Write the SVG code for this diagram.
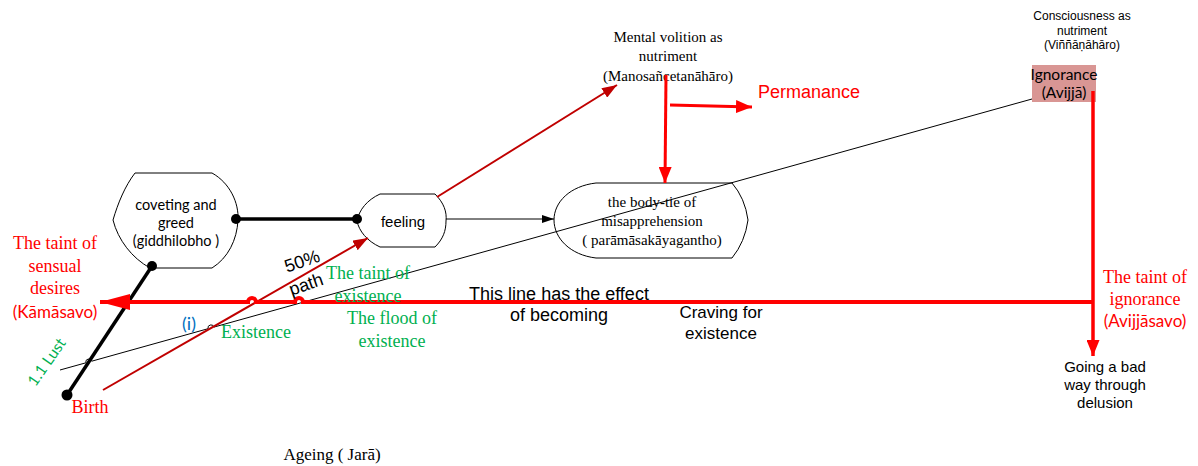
<svg xmlns="http://www.w3.org/2000/svg" width="1198" height="466" viewBox="0 0 1198 466">
<style>
.serif{font-family:"Liberation Serif","Times New Roman",serif}
.sans{font-family:"Liberation Sans",Arial,sans-serif}
.cal{font-family:Lato,"Liberation Sans",sans-serif}
.red{fill:#ff0000}
.green{fill:#00b050}
.node{fill:#ffffff;stroke:#000000;stroke-width:1}
.thinred{stroke:#c00000;stroke-width:2;fill:none}
.thickred{stroke:#ff0000;fill:none}
.thickblack{stroke:#000000;stroke-width:3.5;fill:none}
.thin{stroke:#000000;stroke-width:1;fill:none}
text{text-anchor:middle}
</style>
<defs>
<marker id="aDR" markerUnits="userSpaceOnUse" markerWidth="15" markerHeight="11" refX="15" refY="5.5" orient="auto"><path d="M0,0 L15,5.5 L0,11 Z" fill="#c00000"/></marker>
<marker id="aBig" markerUnits="userSpaceOnUse" markerWidth="30" markerHeight="16" refX="30" refY="8" orient="auto"><path d="M0,0 L30,8 L0,16 Z" fill="#ff0000"/></marker>
<marker id="aRed" markerUnits="userSpaceOnUse" markerWidth="16" markerHeight="13" refX="16" refY="6.5" orient="auto"><path d="M0,0 L16,6.5 L0,13 Z" fill="#ff0000"/></marker>
<marker id="aBlk" markerUnits="userSpaceOnUse" markerWidth="12" markerHeight="8" refX="12" refY="4" orient="auto"><path d="M0,0 L12,4 L0,8 Z" fill="#000000"/></marker>
</defs>
<rect width="1198" height="466" fill="#ffffff"/>

<g id="node-coveting">
<path class="node" d="M135,173 L212,173 C230,183 239,203 238,220 C237,240 228,258 212,268 L150,268 C132,258 118,240 113,220 C118,203 125,186 135,173 Z"/>
<text class="cal" font-size="14.5" x="176" y="210">coveting and</text>
<text class="cal" font-size="14.5" x="176" y="228">greed</text>
<text class="cal" font-size="14.5" x="176" y="246">(giddhilobho )</text>
</g>

<g id="node-feeling">
<path class="node" d="M380,194 L435,194 C444,203 447,212 446,221 C446,231 443,239 435,247 L380,247 C367,241 359,231 357,221 C359,210 367,200 380,194 Z"/>
<text class="sans" font-size="15" x="403" y="227">feeling</text>
</g>

<g id="node-bodytie">
<path class="node" d="M596,183 L732,183 Q745,198 748,220 Q745,242 732,258 L596,258 C570,255 554,238 554,220 C554,202 570,186 596,183 Z"/>
<text class="serif" font-size="15" x="652" y="207">the body-tie of</text>
<text class="serif" font-size="15" x="652" y="226">misapprehension</text>
<text class="serif" font-size="15" x="652" y="245">( parāmāsakāyagantho)</text>
</g>

<g id="node-mental">
<text class="serif" font-size="15" x="668" y="42">Mental volition as</text>
<text class="serif" font-size="15" x="668" y="61">nutriment</text>
<text class="serif" font-size="15" x="668" y="81">(Manosañcetanāhāro)</text>
</g>

<g id="node-consciousness">
<text class="sans" font-size="12" x="1082" y="20">Consciousness as</text>
<text class="sans" font-size="12" x="1082" y="35">nutriment</text>
<text class="sans" font-size="12" x="1082" y="49">(Viññāṇāhāro)</text>
</g>

<g id="node-ignorance">
<rect x="1032" y="65" width="64" height="37" fill="#d99694"/>
<text class="cal" font-size="15.5" x="1064" y="80">Ignorance</text>
<text class="cal" font-size="15.5" x="1064" y="98">(Avijjā)</text>
</g>

<g id="connectors">
<path class="thin" d="M60,370 L85.9,362.8 A3,3 0 0 1 91.7,361.2 L208.1,328.7 A3,3 0 0 1 213.9,327.1 L1032,99"/>
<line class="thickblack" x1="236" y1="219" x2="357" y2="219"/>
<line class="thickblack" x1="152" y1="266" x2="67" y2="395"/>
<circle cx="236" cy="219" r="5"/>
<circle cx="357" cy="219" r="5"/>
<circle cx="152" cy="266" r="5"/>
<circle cx="67" cy="395" r="5.5"/>
<line class="thin" x1="446" y1="219" x2="554" y2="219" marker-end="url(#aBlk)"/>
<line class="thinred" x1="103" y1="390" x2="368" y2="238" marker-end="url(#aDR)"/>
<line class="thinred" x1="437" y1="197" x2="617" y2="85" marker-end="url(#aDR)"/>
<path class="thickred" stroke-width="4" d="M1093,302 H303 A4,4 0 0 0 295,302 H256 A4,4 0 0 0 248,302 H100" marker-end="url(#aBig)"/>
<line class="thickred" stroke-width="3.5" x1="1093" y1="91" x2="1093" y2="356" marker-end="url(#aRed)"/>
<line class="thickred" stroke-width="3" x1="666" y1="75" x2="665" y2="183" marker-end="url(#aRed)"/>
<line class="thickred" stroke-width="3" x1="670" y1="105" x2="752" y2="107" marker-end="url(#aRed)"/>
</g>

<g id="labels">
<text class="sans red" font-size="18" x="758" y="98" style="text-anchor:start">Permanance</text>
<text class="serif red" font-size="18" x="55" y="249">The taint of</text>
<text class="serif red" font-size="18" x="55" y="272">sensual</text>
<text class="serif red" font-size="18" x="55" y="294">desires</text>
<text class="cal red" font-size="17" x="55" y="318">(Kāmāsavo)</text>
<text class="serif red" font-size="18" x="90" y="413">Birth</text>
<text class="cal green" font-size="15.5" transform="translate(51,365) rotate(-55)">1.1 Lust</text>
<text class="cal" font-size="18" fill="#0070c0" x="189" y="330">(i)</text>
<text class="serif green" font-size="18" x="256" y="338">Existence</text>
<text class="sans" font-size="18" transform="translate(304,267) rotate(-19)">50%</text>
<text class="sans" font-size="18" transform="translate(308,290) rotate(-19)">path</text>
<text class="serif green" font-size="18" x="368" y="279">The taint of</text>
<text class="serif green" font-size="18" x="368" y="302">existence</text>
<text class="serif green" font-size="18" x="392" y="324">The flood of</text>
<text class="serif green" font-size="18" x="392" y="347">existence</text>
<text class="sans" font-size="18" x="559" y="300">This line has the effect</text>
<text class="sans" font-size="18" x="559" y="321">of becoming</text>
<text class="sans" font-size="17" x="721" y="318">Craving for</text>
<text class="sans" font-size="17" x="721" y="339">existence</text>
<text class="serif red" font-size="18" x="1145" y="283">The taint of</text>
<text class="serif red" font-size="18" x="1145" y="305">ignorance</text>
<text class="cal red" font-size="17" x="1145" y="327">(Avijjāsavo)</text>
<text class="sans" font-size="15" x="1105" y="372">Going a bad</text>
<text class="sans" font-size="15" x="1105" y="390">way through</text>
<text class="sans" font-size="15" x="1105" y="408">delusion</text>
<text class="serif" font-size="17" x="332" y="460">Ageing ( Jarā)</text>
</g>
</svg>
